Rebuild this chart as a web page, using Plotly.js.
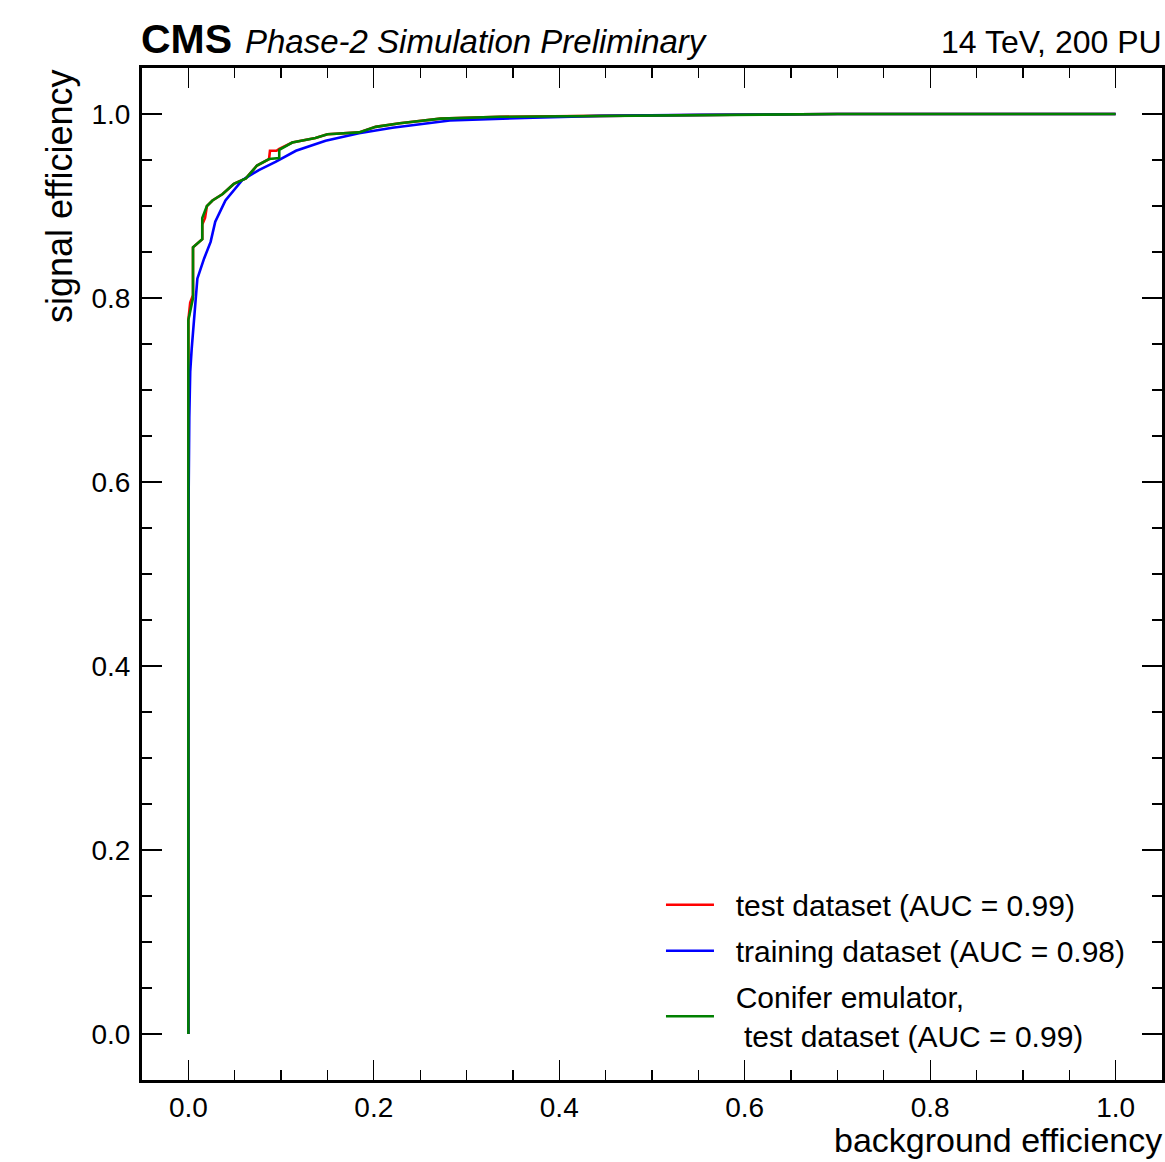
<!DOCTYPE html>
<html>
<head>
<meta charset="utf-8">
<script src="https://cdn.plot.ly/plotly-3.0.1.min.js"></script>
<style>html,body{margin:0;padding:0;background:#fff;}#chart{width:1165px;height:1162px;}</style>
</head>
<body>
<div id="chart"></div>
<script>
// ROC curves
const testFpr = [0,0,0.002,0.004,0.005,0.005,0.015,0.015,0.018,0.020,0.026,0.037,0.049,0.062,0.074,0.087,0.088,0.095,0.098,0.112,0.137,0.150,0.184,0.202,0.228,0.272,0.336,0.444,0.552,0.7,1.0];
const testTpr = [0,0.776,0.795,0.800,0.803,0.855,0.864,0.880,0.887,0.900,0.906,0.913,0.924,0.930,0.944,0.951,0.960,0.960,0.962,0.969,0.974,0.978,0.980,0.986,0.990,0.995,0.997,0.998,0.999,1.0,1.0];

const trainFpr = [0,0,0.001,0.002,0.0036,0.008,0.0097,0.017,0.024,0.029,0.040,0.058,0.076,0.094,0.116,0.148,0.184,0.220,0.282,0.372,0.444,0.552,0.7,1.0];
const trainTpr = [0,0.55,0.67,0.72,0.745,0.799,0.821,0.843,0.861,0.883,0.906,0.928,0.939,0.948,0.960,0.971,0.979,0.985,0.993,0.996,0.998,0.999,1.0,1.0];

const coniferFpr = [0,0,0.005,0.005,0.015,0.015,0.020,0.026,0.037,0.049,0.062,0.074,0.087,0.098,0.098,0.112,0.137,0.150,0.184,0.202,0.228,0.272,0.336,0.444,0.552,0.7,1.0];
const coniferTpr = [0,0.776,0.800,0.855,0.864,0.887,0.900,0.906,0.913,0.924,0.930,0.944,0.951,0.952,0.961,0.969,0.974,0.978,0.980,0.986,0.990,0.995,0.997,0.998,0.999,1.0,1.0];

const PAD = "\u00a0\u00a0";
const seriesNames = [PAD + "test dataset (AUC = 0.99)", PAD + "training dataset (AUC = 0.98)", PAD + "Conifer emulator,<br>" + PAD + "\u00a0test dataset (AUC = 0.99)"];
const seriesColors = ["#ff0000", "#0000ff", "#008000"];

const xTickVals = [0, 0.2, 0.4, 0.6, 0.8, 1.0];
const xTickText = ["0.0", "0.2", "0.4", "0.6", "0.8", "1.0"];
const yTickVals = [0, 0.2, 0.4, 0.6, 0.8, 1.0];
const yTickText = ["0.0", "0.2", "0.4", "0.6", "0.8", "1.0"];

const FONT = "Liberation Sans, Arial, Helvetica, sans-serif";

const traces = [
  {x: testFpr, y: testTpr, name: seriesNames[0], legendgroup: "a"},
  {x: trainFpr, y: trainTpr, name: seriesNames[1], legendgroup: "b"},
  {x: coniferFpr, y: coniferTpr, name: seriesNames[2], legendgroup: "c"}
].map((t, i) => Object.assign(t, {
  type: "scatter", mode: "lines",
  line: {color: seriesColors[i], width: 2.6, shape: "linear"},
  hoverinfo: "skip"
}));

const axisCommon = {
  showline: true, linecolor: "#000", linewidth: 3, mirror: "allticks",
  ticks: "inside", ticklen: 20, tickwidth: 1.2, tickcolor: "#000",
  showgrid: false, zeroline: false,
  tickfont: {family: FONT, size: 28, color: "#000"},
  minor: {dtick: 0.05, ticks: "inside", ticklen: 10, tickwidth: 1.2, tickcolor: "#000", showgrid: false}
};

const layout = {
  width: 1165, height: 1162,
  margin: {l: 142, r: 3, t: 68, b: 82, pad: 0},
  paper_bgcolor: "#fff", plot_bgcolor: "#fff",
  font: {family: FONT, color: "#000"},
  showlegend: true,
  legend: {
    x: 0.5088, y: 0.018, xanchor: "left", yanchor: "bottom",
    bgcolor: "rgba(0,0,0,0)", borderwidth: 0,
    font: {family: FONT, size: 30, color: "#000"},
    traceorder: "grouped", tracegroupgap: 4, itemwidth: 48
  },
  xaxis: Object.assign({}, axisCommon, {
    range: [-0.05, 1.05], tickvals: xTickVals, ticktext: xTickText,
    ticklabelstandoff: 0,
    title: {text: ""}
  }),
  yaxis: Object.assign({}, axisCommon, {
    range: [-0.05, 1.05], tickvals: yTickVals, ticktext: yTickText,
    ticklabelstandoff: 3,
    title: {text: ""}
  }),
  annotations: [
    {text: "<b>CMS</b>", xref: "paper", yref: "paper", x: 0, y: 1, xanchor: "left", yanchor: "bottom", xshift: -3, yshift: 4, showarrow: false, font: {family: FONT, size: 41, color: "#000"}},
    {text: "<i>Phase-2 Simulation Preliminary</i>", xref: "paper", yref: "paper", x: 0.099, y: 1, xanchor: "left", yanchor: "bottom", yshift: 6, showarrow: false, font: {family: FONT, size: 33, color: "#000"}},
    {text: "14 TeV, 200 PU", xref: "paper", yref: "paper", x: 1, y: 1, xanchor: "right", yanchor: "bottom", xshift: 2, yshift: 6, showarrow: false, font: {family: FONT, size: 32, color: "#000"}},
    {text: "signal efficiency", xref: "paper", yref: "paper", x: 0, y: 1, xanchor: "right", yanchor: "top", xshift: -60, textangle: -90, showarrow: false, font: {family: FONT, size: 36, color: "#000"}},
    {text: "background efficiency", xref: "paper", yref: "paper", x: 1, y: 0, xanchor: "right", yanchor: "top", xshift: 2, yshift: -39, showarrow: false, font: {family: FONT, size: 34, color: "#000"}}
  ]
};

Plotly.newPlot("chart", traces, layout, {displayModeBar: false, staticPlot: true});
</script>
</body>
</html>
